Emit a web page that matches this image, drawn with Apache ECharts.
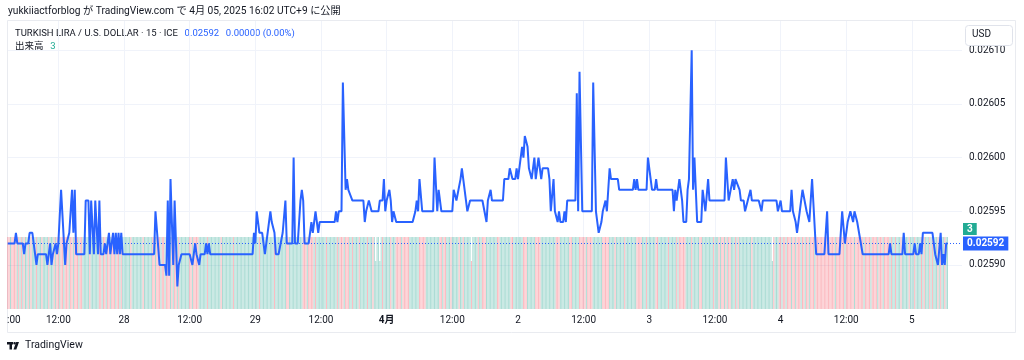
<!DOCTYPE html>
<html><head><meta charset="utf-8">
<script src="https://cdn.jsdelivr.net/npm/echarts@6/dist/echarts.min.js"></script>
<style>html,body{margin:0;padding:0;background:#fff}#c{width:1024px;height:360px}</style>
</head><body><div id="c"></div>
<script>
// x = 15-minute bar index, 0 = 28 Mar 00:00 (UTC+9); y = close price (USD)
const closeVertices = [[-85,0.02592],[-80,0.02592],[-79,0.02593],[-78,0.02592],[-74,0.02592],[-73,0.02591],[-72,0.02592],[-70,0.02592],[-69,0.02593],[-67,0.02593],[-66,0.02592],[-65,0.02591],[-64,0.02590],[-63,0.02591],[-57,0.02591],[-56,0.02590],[-55,0.02591],[-54,0.02592],[-53,0.02590],[-52,0.02591],[-50,0.02592],[-49,0.02591],[-48,0.02592],[-46,0.02597],[-43,0.02590],[-42,0.02592],[-41,0.02592],[-40,0.02593],[-38,0.02597],[-37,0.02593],[-36,0.02597],[-35,0.02591],[-29,0.02591],[-28,0.02596],[-26,0.02596],[-25,0.02591],[-24,0.02596],[-23,0.02596],[-22,0.02591],[-21,0.02596],[-20,0.02596],[-19,0.02591],[-18,0.02596],[-17,0.02591],[-15,0.02591],[-14,0.02592],[-13,0.02591],[-12,0.02591],[-11,0.02593],[-10,0.02591],[-8,0.02593],[-7,0.02591],[-6,0.02593],[-5,0.02591],[-4,0.02593],[-3,0.02591],[-2,0.02593],[-1,0.02591],[22,0.02591],[23,0.02595],[26,0.02590],[30,0.02590],[31,0.02589],[32,0.02596],[33,0.02589],[34,0.02598],[36,0.02590],[37,0.02596],[39,0.02588],[40,0.02590],[42,0.02591],[48,0.02591],[50,0.02590],[51,0.02591],[52,0.02592],[53,0.02591],[55,0.02590],[56,0.02591],[59,0.02591],[60,0.02592],[61,0.02591],[62,0.02592],[63,0.02591],[94,0.02591],[95,0.02593],[96,0.02592],[97,0.02595],[99,0.02593],[101,0.02593],[103,0.02591],[105,0.02593],[107,0.02595],[108,0.02594],[109,0.02594],[110,0.02593],[111,0.02591],[113,0.02591],[116,0.02593],[117,0.02593],[118,0.02596],[119,0.02592],[123,0.02592],[124,0.02600],[125,0.02592],[127,0.02592],[129,0.02596],[130,0.02597],[131,0.02596],[132,0.02592],[135,0.02592],[136,0.02593],[137,0.02594],[138,0.02593],[140,0.02595],[141,0.02594],[142,0.02593],[143,0.02594],[154,0.02594],[155,0.02595],[156,0.02594],[157,0.02595],[159,0.02595],[160,0.02607],[162,0.02597],[163,0.02598],[164,0.02597],[165,0.02597],[167,0.02596],[175,0.02596],[176,0.02594],[177,0.02595],[178,0.02595],[179,0.02596],[181,0.02595],[186,0.02595],[187,0.02596],[189,0.02596],[190,0.02598],[191,0.02595],[192,0.02596],[194,0.02597],[195,0.02596],[196,0.02594],[197,0.02595],[198,0.02595],[199,0.02594],[211,0.02594],[213,0.02595],[214,0.02596],[215,0.02595],[216,0.02598],[218,0.02595],[226,0.02595],[227,0.02600],[229,0.02595],[230,0.02597],[232,0.02595],[240,0.02595],[241,0.02597],[243,0.02596],[244,0.02596],[246,0.02598],[247,0.02599],[248,0.02598],[249,0.02598],[250,0.02596],[251,0.02595],[252,0.02595],[253,0.02596],[262,0.02596],[265,0.02594],[266,0.02596],[268,0.02597],[269,0.02596],[277,0.02596],[278,0.02598],[281,0.02598],[282,0.02599],[284,0.02598],[286,0.02598],[287,0.02599],[288,0.02598],[290,0.02600],[291,0.02601],[292,0.02600],[293,0.02602],[295,0.02601],[296,0.02599],[298,0.02598],[299,0.02599],[300,0.02600],[301,0.02598],[302,0.02599],[303,0.02600],[305,0.02598],[306,0.02599],[310,0.02599],[311,0.02598],[312,0.02595],[314,0.02598],[315,0.02595],[317,0.02594],[318,0.02595],[319,0.02594],[321,0.02594],[322,0.02595],[323,0.02594],[324,0.02596],[330,0.02596],[331,0.02606],[332,0.02595],[333,0.02608],[335,0.02595],[342,0.02595],[343,0.02607],[345,0.02595],[346,0.02594],[347,0.02593],[349,0.02594],[350,0.02595],[352,0.02596],[353,0.02595],[354,0.02597],[355,0.02599],[356,0.02598],[361,0.02598],[362,0.02597],[372,0.02597],[373,0.02598],[374,0.02597],[375,0.02598],[376,0.02597],[382,0.02597],[383,0.02600],[385,0.02598],[386,0.02597],[388,0.02597],[389,0.02598],[390,0.02597],[401,0.02597],[402,0.02595],[403,0.02597],[404,0.02596],[405,0.02597],[406,0.02598],[408,0.02596],[409,0.02594],[411,0.02594],[412,0.02597],[413,0.02598],[415,0.02610],[416,0.02597],[417,0.02600],[419,0.02594],[422,0.02594],[423,0.02597],[425,0.02595],[427,0.02598],[428,0.02596],[439,0.02596],[440,0.02600],[442,0.02596],[443,0.02596],[445,0.02598],[446,0.02597],[447,0.02598],[448,0.02598],[450,0.02597],[451,0.02596],[453,0.02596],[454,0.02595],[455,0.02595],[456,0.02596],[458,0.02597],[459,0.02596],[464,0.02596],[466,0.02595],[467,0.02596],[477,0.02596],[478,0.02595],[480,0.02596],[481,0.02595],[487,0.02595],[488,0.02597],[489,0.02595],[491,0.02594],[492,0.02593],[494,0.02595],[496,0.02597],[497,0.02597],[499,0.02595],[501,0.02594],[503,0.02598],[504,0.02598],[506,0.02591],[512,0.02591],[514,0.02595],[515,0.02591],[523,0.02591],[525,0.02595],[527,0.02592],[529,0.02594],[531,0.02595],[533,0.02594],[534,0.02595],[536,0.02594],[537,0.02594],[540,0.02591],[559,0.02591],[560,0.02592],[561,0.02591],[569,0.02591],[570,0.02593],[571,0.02591],[577,0.02591],[578,0.02592],[579,0.02591],[581,0.02591],[582,0.02592],[583,0.02591],[584,0.02593],[591,0.02593],[593,0.02591],[594,0.02591],[595,0.02590],[597,0.02593],[598,0.02590],[599,0.02591],[600,0.02590],[601,0.02592],[602,0.02592]];

const xTickValues = [-48,0,48,96,144,192,240,288,336,384,432,480,528,576];
const xTickLabels = ['12:00','28','12:00','29','12:00','4月','12:00','2','12:00','3','12:00','4','12:00','5'];
const priceTicks = [0.02590,0.02595,0.02600,0.02605,0.02610];

// volume: first bar index, run-length [count, volume]
const firstBar = -85;
const volumeRuns = [[269,3],[1,2],[2,3],[1,2],[66,3],[1,2],[219,3],[1,2],[128,3]];
// bar direction per bar: r = down, g = up
const volumeSides = ['rrgrrrrgr','grgrggrgr','gggrgggrggggrgggrg','rrgrrgrrrgrrgrrrgrr','gggggrgggggg','rrgrrgrrgrrrgrrgr',
 'ggggggrggggggggrgggggg','rrgrrrgrrgrrrgrgrrgr','ggggggg','rrgrrrr','ggggggrgggggggggrggggggggrgggg','ggggggggggggggrg',
 'gggggggggrgggggggg','rr','gggggggggg','rrrgrrrrgr','gggggggrgggggggrg','rrrgrrr','ggrggggrgggggrgggrggggggrgggggrggg',
 'rrrrgrrrrr','ggggggg','rrrrr','gggggggggg','rrgrr','gggrgggggrggrgggggrggggrgg',
 'rrr','gggggggg','rr','gggggggg','rr','ggggggg','rrr','gggggg','rrrr','ggggggggggg','rrr','ggggggg','rr','ggggg',
 'rrrrrgrrrr','ggggggg','rrrrr','ggggrggggggrgggggggg','rrrr','gggrggggggrrgggggggrgggggrg','rrrrr',
 'ggggrgggggrrggggggggrggg','rgrrgrgrrgggrgr','gggggggggrgggggggggggggggrggg','rrgrrgrrrgrrgrrrgrrgrrgrrrg',
 'rrrrrrrrrr','rrrrgrrrrrrgrrrrrrgrrr','rrrgrrrrgrrrrgrrrgrrrrgr','ggrgggrgggggrgggrggg','grgrgggrgrgggrgrggrgg'];

const lastPrice = 0.02592;
const lastVolume = 3;
const X_MIN = -84.8, X_MAX = 612.6;

const sides = volumeSides.join('');
const volumeData = [];
let idx = 0;
volumeRuns.forEach(([n, v]) => { for (let k = 0; k < n; k++) { volumeData.push([firstBar + idx, v]); idx++; } });

const FONT = "Roboto, 'Noto Sans CJK JP', sans-serif";
const TXT = '#131722';
const chart = echarts.init(document.getElementById('c'), null, {renderer: 'canvas'});
chart.setOption({
  animation: false,
  backgroundColor: '#ffffff',
  textStyle: {fontFamily: FONT},
  grid: {left: 8, right: 62, top: 21, bottom: 51},
  xAxis: {
    type: 'value', min: X_MIN, max: X_MAX,
    axisLine: {show: false},
    axisTick: {show: false, customValues: xTickValues},
    splitLine: {show: true, lineStyle: {color: '#f0f3fa', width: 1}},
    axisLabel: {
      customValues: xTickValues, color: TXT, fontSize: 10, margin: 6, fontFamily: FONT,
      formatter: v => { const s = xTickLabels[xTickValues.indexOf(v)] || ''; return s === '4月' ? '{b|4月}' : s; },
      rich: {b: {fontWeight: 'bold', fontSize: 10, color: TXT, fontFamily: FONT}}
    }
  },
  yAxis: [{
    type: 'value', position: 'right', min: 0.025859, max: 0.0261272, scale: true,
    axisLine: {show: false},
    axisTick: {show: false, customValues: priceTicks},
    splitLine: {show: true, lineStyle: {color: '#f0f3fa', width: 1}},
    axisLabel: {customValues: priceTicks, color: TXT, fontSize: 10, margin: 7, align: 'left', fontFamily: FONT,
      formatter: v => v.toFixed(5)}
  }, {
    type: 'value', min: 0, max: 12, show: false
  }],
  series: [{
    type: 'bar', yAxisIndex: 1, barWidth: 1, data: volumeData, z: 1,
    itemStyle: {color: p => sides[p.dataIndex] === 'r' ? 'rgba(242,54,69,0.34)' : 'rgba(8,153,129,0.34)'}
  }, {
    type: 'line', data: [[X_MIN, lastPrice], [X_MAX, lastPrice]], showSymbol: false, z: 2, silent: true,
    lineStyle: {color: '#2962ff', width: 1, type: [1, 2]},
    endLabel: {show: true, distance: 1, formatter: () => lastPrice.toFixed(5),
      backgroundColor: '#2962ff', color: '#fff', fontSize: 10, fontWeight: 'bold', padding: [2, 4, 2, 4], fontFamily: FONT}
  }, {
    type: 'line', data: closeVertices, showSymbol: false, clip: true, z: 3,
    lineStyle: {color: '#2962ff', width: 2}, itemStyle: {color: '#2962ff'}
  }],
  graphic: [
    {type: 'rect', shape: {x: 7.5, y: 20.5, width: 1008, height: 312}, style: {fill: 'none', stroke: '#e9ebf0', lineWidth: 1}, z: 0},
    {type: 'text', left: 8, top: 6, style: {text: 'yukkiiactforblog が TradingView.com で 4月 05, 2025 16:02 UTC+9 に公開', fill: TXT, font: "10.2px " + FONT}},
    {type: 'text', left: 15, top: 28, style: {
      text: '{a|TURKISH LIRA / U.S. DOLLAR · 15 · ICE}  {b|' + lastPrice.toFixed(5) + '}  {b|0.00000 (0.00%)}',
      rich: {a: {fill: TXT, fontSize: 9.5, fontFamily: FONT}, b: {fill: '#2962ff', fontSize: 9.5, fontFamily: FONT}}}},
    {type: 'text', left: 15, top: 41, style: {
      text: '{a|出来高}  {c|' + lastVolume + '}',
      rich: {a: {fill: TXT, fontSize: 9.5, fontFamily: FONT}, c: {fill: '#22ab94', fontSize: 9.5, fontFamily: FONT}}}},
    {type: 'rect', shape: {x: 965.5, y: 25.5, width: 47, height: 20, r: 3}, style: {fill: '#fff', stroke: '#e0e3eb', lineWidth: 1}, z: 10},
    {type: 'text', left: 972, top: 30, z: 11, style: {text: 'USD', fill: TXT, font: "10px " + FONT}},
    {type: 'text', left: 963, top: 223, z: 11, style: {text: String(lastVolume), fill: '#fff', backgroundColor: '#22ab94', padding: [1, 4, 1, 4], font: "bold 10px " + FONT}},
    {type: 'text', left: 7, top: 315, style: {text: ':00', fill: TXT, font: "10px " + FONT}},
    {type: 'rect', shape: {x: 7, y: 342, width: 6, height: 2.5}, style: {fill: TXT}},
    {type: 'rect', shape: {x: 9.5, y: 342, width: 2.5, height: 7.5}, style: {fill: TXT}},
    {type: 'circle', shape: {cx: 14.6, cy: 343.3, r: 1.3}, style: {fill: TXT}},
    {type: 'polygon', shape: {points: [[16.2, 342], [19, 342], [16.3, 349.5], [13.5, 349.5]]}, style: {fill: TXT}},
    {type: 'text', left: 25, top: 340, style: {text: 'TradingView', fill: TXT, font: "10.5px " + FONT}}
  ]
});
</script>
</body></html>
